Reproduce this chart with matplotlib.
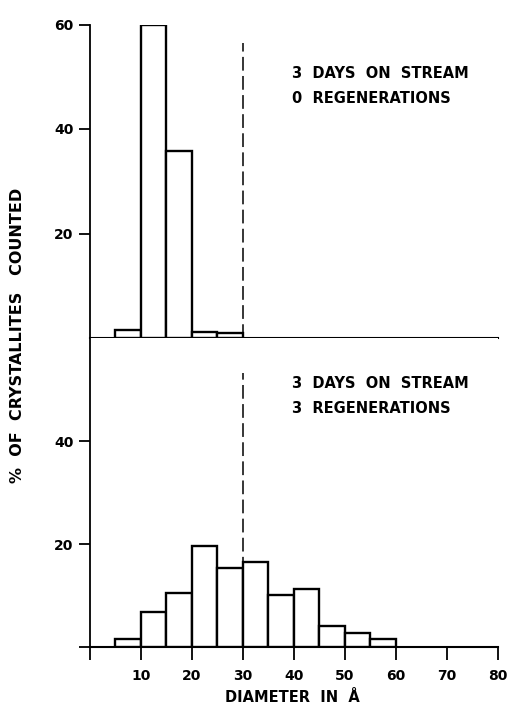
import matplotlib
matplotlib.use("Agg")
import matplotlib.pyplot as plt

plt.rcParams['font.family'] = ['DejaVu Sans']
plt.rcParams['font.weight'] = 'bold'

bin_edges_top = [5, 10, 15, 20, 25]
pct_top = [1.5, 60, 35.8, 1.2, 0.9]
bin_edges_bot = [5, 10, 15, 20, 25, 30, 35, 40, 45, 50, 55]
pct_bot = [1.6, 6.8, 10.4, 19.6, 15.3, 16.6, 10.1, 11.2, 4.0, 2.8, 1.5]
bin_width = 5
x_ticks = [0, 10, 20, 30, 40, 50, 60, 70, 80]
x_ticklabels = ['', '10', '20', '30', '40', '50', '60', '70', '80']
top_yticks = [20, 40, 60]
bot_yticks = [0, 20, 40]
bot_yticklabels = ['', '20', '40']
cutoff = 30
top_label = "3  DAYS  ON  STREAM\n0  REGENERATIONS"
bot_label = "3  DAYS  ON  STREAM\n3  REGENERATIONS"
ylabel = "%  OF  CRYSTALLITES   COUNTED"
xlabel = "DIAMETER  IN  Å"

W, H = 508, 704
fig = plt.figure(figsize=(W / 100, H / 100), dpi=100)

x0, x1 = 90.0, 497.5
ax_top = fig.add_axes([x0 / W, 1 - 338 / H, (x1 - x0) / W, (338 - 24.5) / H])
ax_bot = fig.add_axes([x0 / W, 1 - 647 / H, (x1 - x0) / W, (647 - 338) / H])

lw_bar = 1.7
fs = 10
for ax in (ax_top, ax_bot):
    ax.set_xlim(0, 80)
    ax.set_ylim(0, 60)
    for s in ('top', 'right'):
        ax.spines[s].set_visible(False)
    ax.spines['left'].set_linewidth(1.3)
    ax.spines['bottom'].set_linewidth(1.5)
    ax.tick_params(axis='both', direction='out', length=8, width=1.3,
                   labelsize=fs, pad=4)

ax_top.bar(bin_edges_top, pct_top, width=bin_width, align='edge',
           facecolor='white', edgecolor='black', linewidth=lw_bar, zorder=3)
ax_bot.bar(bin_edges_bot, pct_bot, width=bin_width, align='edge',
           facecolor='white', edgecolor='black', linewidth=lw_bar, zorder=3)

ax_top.vlines(cutoff, 0, 56.5, colors='black', linestyles=(0, (9, 3.5)), linewidth=1.1, zorder=2)
ax_bot.vlines(cutoff, 0, 53.2, colors='black', linestyles=(0, (9, 3.5)), linewidth=1.1, zorder=2)

ax_top.set_xticks([])
ax_top.set_yticks(top_yticks)
ax_top.set_yticklabels([str(v) for v in top_yticks], fontweight='bold')

ax_bot.set_yticks(bot_yticks)
ax_bot.set_yticklabels(bot_yticklabels, fontweight='bold')
ax_bot.set_xticks(x_ticks)
ax_bot.set_xticklabels(x_ticklabels, fontweight='bold')
ax_bot.tick_params(axis='x', length=9, pad=7)
ax_bot.set_xticks([80], minor=True)
ax_bot.tick_params(axis='x', which='minor', direction='in', length=6, width=1.3)

ax_top.text(39.6, 48.2, top_label, fontsize=10.5, fontweight='bold',
            va='center', ha='left', linespacing=1.85)
ax_bot.text(39.6, 48.7, bot_label, fontsize=10.5, fontweight='bold',
            va='center', ha='left', linespacing=1.85)

fig.text(18 / W, 1 - 335 / H, ylabel, rotation=90, fontsize=11.5, fontweight='bold',
         ha='center', va='center')
fig.text(292 / W, 1 - 697 / H, xlabel, fontsize=10.5, fontweight='bold',
         ha='center', va='center')

fig.savefig("out.png", dpi=100)
